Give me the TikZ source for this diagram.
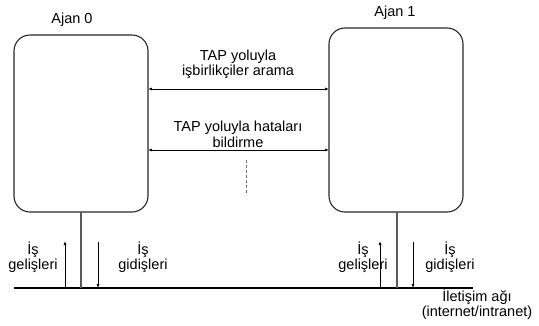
\documentclass[tikz,border=0pt]{standalone}
\usepackage{fontspec}
\setmainfont{Liberation Sans}
\usetikzlibrary{arrows.meta}
\begin{document}
\begin{tikzpicture}[x=1pt,y=-1pt,
  agent/.style={draw=black!85,line width=1.1pt,rounded corners=16pt},
  lbl/.style={font=\fontsize{14.5}{15.5}\selectfont,align=center,inner sep=0pt},
  thin/.style={line width=0.9pt,-{Latex[length=4pt,width=3pt]}},
  both/.style={line width=0.9pt,{Latex[length=4pt,width=3pt]}-{Latex[length=4pt,width=3pt]}},
  link/.style={draw=black!65,line width=1.2pt},
  net/.style={line width=2.2pt}]
\useasboundingbox (0,0) rectangle (539,325);
% agents
\draw[agent] (14,35) rectangle (148,212);
\draw[agent] (329,28) rectangle (463,212);
\node[lbl] (t0) at (72,20) {Ajan 0};
\node[lbl] (t1) at (395,13) {Ajan 1};
% messages
\coordinate (m1l) at (148,89); \coordinate (m1r) at (329,89);
\coordinate (m2l) at (148,150); \coordinate (m2r) at (329,150);
\draw[both] (m1l) -- (m1r);
\draw[both] (m2l) -- (m2r);
\node[lbl] (l1) at (238,64.5) {TAP yoluyla\\işbirlikçiler arama};
\node[lbl] (l2) at (238,134.5) {TAP yoluyla hataları\\bildirme};
\coordinate (d1) at (246,160); \coordinate (d2) at (246,195);
\draw[black!55,line width=1pt,dash pattern=on 3pt off 2pt] (d1) -- (d2);
% network
\coordinate (n0) at (14,288); \coordinate (n1) at (473,288);
\draw[net] (n0) -- (n1);
\coordinate (v0a) at (81,212); \coordinate (v0b) at (81,288);
\coordinate (v1a) at (397,212); \coordinate (v1b) at (397,288);
\draw[link] (v0a) -- (v0b);
\draw[link] (v1a) -- (v1b);
% job arrows
\coordinate (u0a) at (65,288); \coordinate (u0b) at (65,241);
\coordinate (g0a) at (98,242); \coordinate (g0b) at (98,288);
\coordinate (u1a) at (380,288); \coordinate (u1b) at (380,241);
\coordinate (g1a) at (413,242); \coordinate (g1b) at (413,288);
\draw[thin] (u0a) -- (u0b);
\draw[thin] (g0a) -- (g0b);
\draw[thin] (u1a) -- (u1b);
\draw[thin] (g1a) -- (g1b);
\node[lbl] (a0) at (33,257) {İş\\gelişleri};
\node[lbl] (b0) at (143,257) {İş\\gidişleri};
\node[lbl] (a1) at (363,257) {İş\\gelişleri};
\node[lbl] (b1) at (450,257) {İş\\gidişleri};
\node[lbl] (net) at (477,304) {İletişim ağı\\(internet/intranet)};
\end{tikzpicture}
\end{document}
